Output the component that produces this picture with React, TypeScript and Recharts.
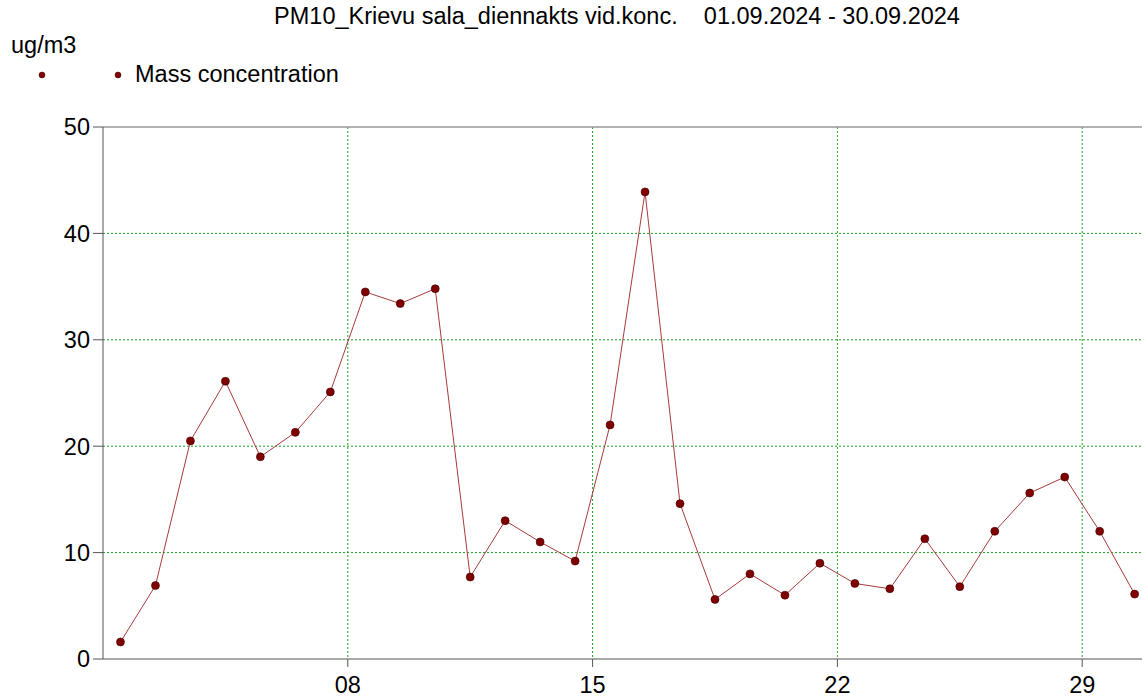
import React from "react";
import {
  LineChart,
  Line,
  XAxis,
  YAxis,
  CartesianGrid,
  ReferenceLine,
} from "recharts";

const days: number[] = [
  1, 2, 3, 4, 5, 6, 7, 8, 9, 10, 11, 12, 13, 14, 15, 16, 17, 18, 19, 20, 21,
  22, 23, 24, 25, 26, 27, 28, 29, 30,
];
const massConcentration: number[] = [
  1.6, 6.9, 20.5, 26.1, 19.0, 21.3, 25.1, 34.5, 33.4, 34.8, 7.7, 13.0, 11.0,
  9.2, 22.0, 43.9, 14.6, 5.6, 8.0, 6.0, 9.0, 7.1, 6.6, 11.3, 6.8, 12.0, 15.6,
  17.1, 12.0, 6.1,
];
const xTicks: number[] = [8, 15, 22, 29];
const yTicks: number[] = [0, 10, 20, 30, 40, 50];
const titleText = "PM10_Krievu sala_diennakts vid.konc.\u00a0\u00a0\u00a0\u00a001.09.2024 - 30.09.2024";
const unitText = "ug/m3";
const seriesName = "Mass concentration";

// daily means are plotted at the middle of each day
const data = days.map((d, i) => ({ t: d + 0.5, v: massConcentration[i] }));

const FONT = "'Liberation Sans', Arial, sans-serif";
const FS = 23.5;

export default function App() {
  return (
    <div
      style={{
        position: "absolute",
        left: 0,
        top: 0,
        width: 1142,
        height: 700,
        overflow: "hidden",
        background: "#fff",
        fontFamily: FONT,
      }}
    >
      <div
        style={{
          position: "absolute",
          left: 0,
          width: 1234,
          top: 3,
          textAlign: "center",
          fontSize: FS,
          whiteSpace: "nowrap",
          color: "#000",
        }}
      >
        {titleText}
      </div>
      <div
        style={{
          position: "absolute",
          left: 11,
          top: 32,
          fontSize: FS,
          color: "#000",
        }}
      >
        {unitText}
      </div>
      <svg width={140} height={30} style={{ position: "absolute", left: 0, top: 60 }}>
        <circle cx={42} cy={15} r={3} fill="#800000" stroke="#400" strokeWidth={0.5} />
        <circle cx={118} cy={15} r={3} fill="#800000" stroke="#400" strokeWidth={0.5} />
      </svg>
      <div
        style={{
          position: "absolute",
          left: 135,
          top: 60,
          fontSize: FS,
          color: "#000",
          whiteSpace: "nowrap",
          lineHeight: "28px",
        }}
      >
        {seriesName}
      </div>
      <div style={{ position: "absolute", left: 0, top: 0 }}>
        <LineChart
          width={1142}
          height={700}
          data={data}
          margin={{ top: 127, right: 0, left: 0, bottom: 0 }}
        >
          <CartesianGrid
            stroke="#22a022"
            strokeDasharray="2 2"
            horizontalValues={[10, 20, 30, 40]}
            verticalValues={xTicks}
          />
          <XAxis
            dataKey="t"
            type="number"
            domain={[1, 30.71]}
            allowDataOverflow
            ticks={xTicks}
            tickFormatter={(v: number) => String(v).padStart(2, "0")}
            height={41}
            tickSize={8}
            tickMargin={9}
            stroke="#555"
            tick={{ fill: "#000", fontSize: FS, fontFamily: FONT }}
          />
          <YAxis
            type="number"
            domain={[0, 50]}
            ticks={yTicks}
            width={103}
            tickSize={10}
            tickMargin={3}
            stroke="#555"
            tick={{ fill: "#000", fontSize: FS, fontFamily: FONT }}
          />
          <ReferenceLine y={50} stroke="#999" strokeWidth={1.5} />
          <Line
            type="linear"
            dataKey="v"
            name={seriesName}
            stroke="#a83a3a"
            strokeWidth={1}
            dot={{ r: 4, fill: "#800000", stroke: "#3a0000", strokeWidth: 0.6 }}
            isAnimationActive={false}
          />
        </LineChart>
      </div>
    </div>
  );
}
